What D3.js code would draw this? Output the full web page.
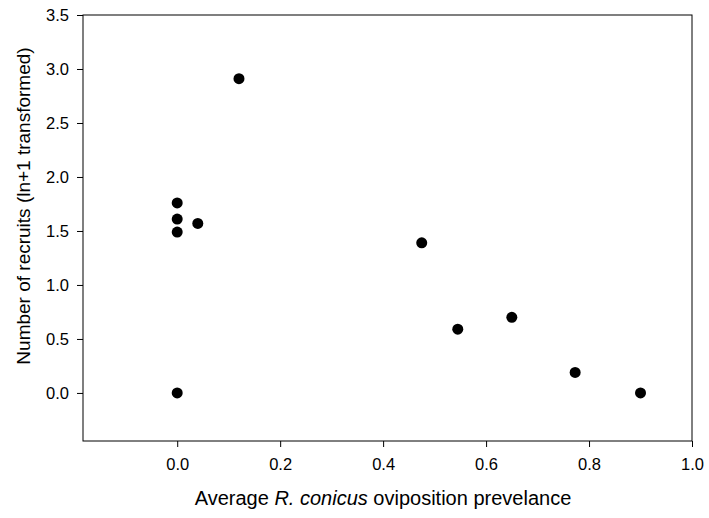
<!DOCTYPE html>
<html>
<head>
<meta charset="utf-8">
<script src="https://cdn.jsdelivr.net/npm/d3@7"></script>
<style>
  html, body { margin: 0; padding: 0; background: #fff; }
  svg text { font-family: "Liberation Sans", Arial, sans-serif; fill: #000; }
</style>
</head>
<body>
<svg id="chart" width="709" height="518"></svg>
<script>
// Oviposition prevalence per site and ln(n+1) recruit counts
const prevalence = [0.0, 0.0, 0.0, 0.0, 0.04, 0.12, 0.475, 0.545, 0.65, 0.773, 0.90];
const recruits   = [1.76, 1.61, 1.49, 0.0, 1.57, 2.91, 1.39, 0.59, 0.70, 0.19, 0.0];
const xTicks = [0.0, 0.2, 0.4, 0.6, 0.8, 1.0];
const yTicks = [0.0, 0.5, 1.0, 1.5, 2.0, 2.5, 3.0, 3.5];

const svg = d3.select("#chart");
const margin = { left: 83, top: 15, right: 17, bottom: 77 };
const W = 709, H = 518;

const x = d3.scaleLinear().domain([-0.183, 1.0]).range([margin.left, W - margin.right]);
const y = d3.scaleLinear().domain([-0.445, 3.5]).range([H - margin.bottom, margin.top]);

// frame
svg.append("rect")
  .attr("x", x.range()[0]).attr("y", y.range()[1])
  .attr("width", x.range()[1] - x.range()[0])
  .attr("height", y.range()[0] - y.range()[1])
  .attr("fill", "none").attr("stroke", "#000").attr("stroke-width", 1);

const fmt = d3.format(".1f");

const xAxis = svg.append("g")
  .attr("transform", `translate(0,${y.range()[0]})`)
  .call(d3.axisBottom(x).tickValues(xTicks).tickFormat(fmt).tickSize(6).tickPadding(11));
const yAxis = svg.append("g")
  .attr("transform", `translate(${x.range()[0]},0)`)
  .call(d3.axisLeft(y).tickValues(yTicks).tickFormat(fmt).tickSize(6).tickPadding(8));

[xAxis, yAxis].forEach(g => {
  g.select(".domain").remove();
  g.selectAll(".tick line").attr("stroke", "#000");
  g.selectAll(".tick text").attr("font-size", 16.5).attr("font-family", "Liberation Sans, Arial, sans-serif").attr("fill", "#000");
});

// points
svg.append("g").selectAll("circle")
  .data(prevalence.map((p, i) => ({ p, r: recruits[i] })))
  .join("circle")
  .attr("cx", d => x(d.p))
  .attr("cy", d => y(d.r))
  .attr("r", 5.5)
  .attr("fill", "#000");

// axis titles
const xt = svg.append("text")
  .attr("x", 383)
  .attr("y", 505)
  .attr("text-anchor", "middle")
  .attr("font-size", 20);
xt.append("tspan").text("Average ");
xt.append("tspan").attr("font-style", "italic").text("R. conicus");
xt.append("tspan").text(" oviposition prevelance");

svg.append("text")
  .attr("transform", `translate(30,206) rotate(-90)`)
  .attr("text-anchor", "middle")
  .attr("font-size", 19)
  .text("Number of recruits (ln+1 transformed)");
</script>
</body>
</html>
